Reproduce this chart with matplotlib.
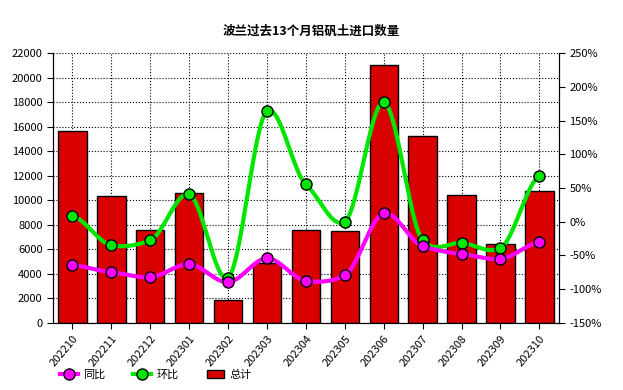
import numpy as np
import matplotlib.pyplot as plt
from matplotlib.patches import Patch
from matplotlib.lines import Line2D

plt.rcParams['font.family'] = ['Noto Sans CJK SC', 'DejaVu Sans']

months = ['202210', '202211', '202212', '202301', '202302', '202303', '202304',
          '202305', '202306', '202307', '202308', '202309', '202310']
total = [15650, 10330, 7560, 10570, 1850, 4860, 7560, 7520, 21000, 15260, 10460, 6410, 10780]
yoy = [-64.6, -74.9, -82.3, -63.0, -89.7, -54.2, -87.8, -79.4, 12.5, -36.4, -47.8, -55.2, -30.5]
mom = [8.5, -34.9, -27.5, 40.6, -83.0, 164.0, 55.4, 0.0, 177.0, -27.5, -31.5, -39.0, 67.8]


def smooth(x, y, k=0.3, n=24):
    # cardinal spline through the points (drawing only)
    x = np.asarray(x, float)
    y = np.asarray(y, float)
    my = np.zeros_like(y)
    my[1:-1] = k * (y[2:] - y[:-2])
    my[0] = k * (y[1] - y[0])
    my[-1] = k * (y[-1] - y[-2])
    t = np.linspace(0, 1, n, endpoint=False)
    h00 = 2 * t ** 3 - 3 * t ** 2 + 1
    h10 = t ** 3 - 2 * t ** 2 + t
    h01 = -2 * t ** 3 + 3 * t ** 2
    h11 = t ** 3 - t ** 2
    xs, ys = [], []
    for i in range(len(x) - 1):
        xs.extend(x[i] + (x[i + 1] - x[i]) * t)
        ys.extend(h00 * y[i] + h10 * my[i] + h01 * y[i + 1] + h11 * my[i + 1])
    xs.append(x[-1])
    ys.append(y[-1])
    return np.array(xs), np.array(ys)


x = np.arange(len(months))
fig = plt.figure(figsize=(6.23, 3.9), dpi=100)
ax = fig.add_axes([0.085, 0.172, 0.812, 0.692])

ax.bar(x, total, 0.73, color='#D90000', edgecolor='black', linewidth=1, zorder=2)
ax.set_ylim(0, 22000)
ax.set_yticks(np.arange(0, 22001, 2000))
ax.set_xlim(-0.5, len(months) - 0.5)
ax.set_xticks(x)
ax.set_xticklabels(months, rotation=50, ha='right', rotation_mode='anchor')
ax.grid(True, color='black', linestyle=':', linewidth=0.8)
ax.set_axisbelow(True)
ax.spines['top'].set_visible(False)
ax.tick_params(labelsize=8, direction='out', length=4)

ax2 = ax.twinx()
ax2.set_ylim(-150, 250)
ax2.set_yticks(np.arange(-150, 251, 50))
ax2.set_yticklabels([f'{v}%' for v in range(-150, 251, 50)])
ax2.spines['top'].set_visible(False)
ax2.tick_params(labelsize=8, direction='out', length=4)

sx, sy = smooth(x, mom)
ax2.plot(sx, sy, color='#00E600', linewidth=3, zorder=3)
ax2.plot(x, mom, 'o', color='#00E600', markeredgecolor='black', markersize=8, zorder=4)
sx, sy = smooth(x, yoy)
ax2.plot(sx, sy, color='#FF00FF', linewidth=3, zorder=3)
ax2.plot(x, yoy, 'o', color='#FF00FF', markeredgecolor='black', markersize=8, zorder=4)

fig.text(0.5, 0.92, '波兰过去13个月铝矾土进口数量', ha='center', va='center',
         fontsize=9, fontweight='bold')

handles = [
    Line2D([], [], color='#FF00FF', linewidth=3, marker='o', markerfacecolor='#FF00FF',
           markeredgecolor='black', markersize=8),
    Line2D([], [], color='#00E600', linewidth=3, marker='o', markerfacecolor='#00E600',
           markeredgecolor='black', markersize=8),
    Patch(facecolor='#D90000', edgecolor='black'),
]
fig.legend(handles, ['同比', '环比', '总计'], loc='lower left', bbox_to_anchor=(0.08, 0.0),
           ncol=3, frameon=False, fontsize=8, handlelength=1.6, columnspacing=2.5,
           handletextpad=0.5)

fig.savefig('out.png', dpi=100)
